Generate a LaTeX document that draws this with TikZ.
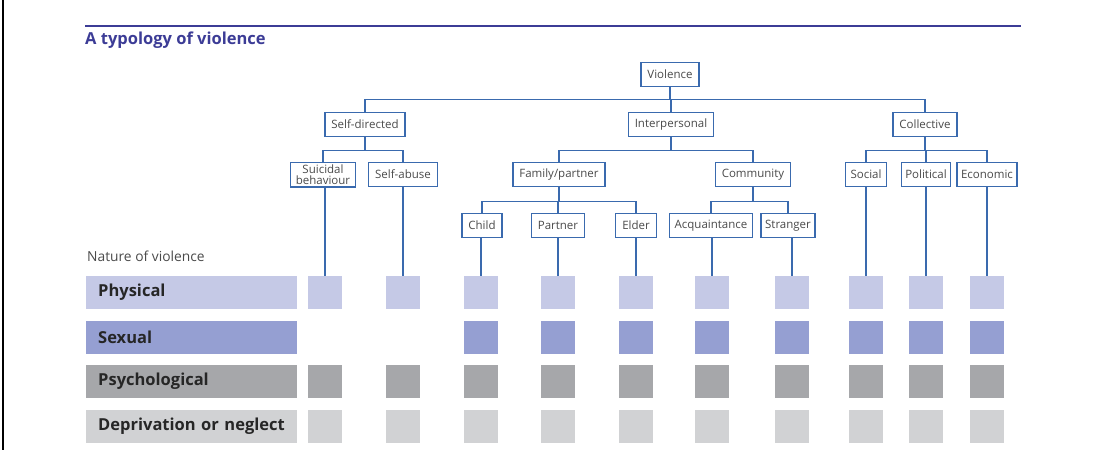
\documentclass[tikz,border=0pt]{standalone}
\usepackage{fontspec}
\setmainfont{Open Sans}
\definecolor{treeblue}{HTML}{3A6AAE}
\definecolor{titleblue}{HTML}{3C3C96}
\definecolor{boxtext}{HTML}{4A4A4A}
\definecolor{physcol}{HTML}{C5C9E6}
\definecolor{sexcol}{HTML}{959FD2}
\definecolor{psycol}{HTML}{A6A7AA}
\definecolor{depcol}{HTML}{D1D2D4}
\tikzset{
	typebox/.style={draw=treeblue,line width=1.3pt,fill=white,text=boxtext,font=\fontsize{11.5}{12.5}\selectfont,inner xsep=6.5pt,inner ysep=2pt,minimum height=24pt,align=center,anchor=north},
	link/.style={treeblue,line width=1.3pt},
	cell/.style={minimum width=34pt,minimum height=33pt,inner sep=0pt},
	bar/.style={minimum height=33pt,inner xsep=12pt,inner ysep=0pt,text width=187pt,anchor=west,font=\fontsize{16.5}{17}\selectfont\bfseries,text=black!85}
}
\begin{document}
\begin{tikzpicture}[x=1pt,y=-1pt]
		\useasboundingbox (0,0) rectangle (1098,450);
		\draw[line width=2pt] (3,0) -- (3,450);
		\draw[titleblue,line width=1.6pt] (85,26) -- (1021,26);
		\node[anchor=west,inner sep=0pt,text=titleblue,font=\fontsize{16.5}{17}\selectfont\bfseries] (title) at (85,40) {A typology of violence};
		% tree
		\node[typebox] (violence) at (670,62) {Violence};
		\node[typebox] (selfdir) at (365,112) {Self-directed};
		\node[typebox] (interp) at (671,112) {Interpersonal};
		\node[typebox] (collective) at (925,112) {Collective};
		\node[typebox,inner xsep=5pt] (suicidal) at (323,162) {Suicidal\\[-1pt]behaviour};
		\node[typebox] (selfabuse) at (403,162) {Self-abuse};
		\node[typebox] (family) at (559,162) {Family/partner};
		\node[typebox] (community) at (753,162) {Community};
		\node[typebox,inner xsep=5pt] (social) at (866,162) {Social};
		\node[typebox,inner xsep=4pt] (political) at (926,162) {Political};
		\node[typebox,inner xsep=4pt] (economic) at (987,162) {Economic};
		\node[typebox] (child) at (482,213) {Child};
		\node[typebox] (partner) at (558,213) {Partner};
		\node[typebox] (elder) at (636,213) {Elder};
		\node[typebox,inner xsep=5pt] (acq) at (711,213) {Acquaintance};
		\node[typebox,inner xsep=4pt] (stranger) at (788,213) {Stranger};
		\foreach \kid in {selfdir,interp,collective}
			\draw[link] (violence.south) -- ++(0,12) -| (\kid.north);
		\foreach \kid in {suicidal,selfabuse}
			\draw[link] (selfdir.south) -- ++(0,13) -| (\kid.north);
		\foreach \kid in {family,community}
			\draw[link] (interp.south) -- ++(0,13) -| (\kid.north);
		\foreach \kid in {social,political,economic}
			\draw[link] (collective.south) -- ++(0,13) -| (\kid.north);
		\foreach \kid in {child,partner,elder}
			\draw[link] (family.south) -- ++(0,14) -| (\kid.north);
		\foreach \kid in {acq,stranger}
			\draw[link] (community.south) -- ++(0,14) -| (\kid.north);
		% nature of violence
		\node[anchor=west,inner sep=0pt,text=boxtext,font=\fontsize{13.8}{14}\selectfont] (nature) at (87,256) {Nature of violence};
		\node[bar,fill=physcol] (physical) at (86,292.5) {Physical};
		\node[bar,fill=sexcol] (sexual) at (86,337.5) {Sexual};
		\node[bar,fill=psycol] (psych) at (86,381.5) {Psychological};
		\node[bar,fill=depcol] (depriv) at (86,426.5) {Deprivation or neglect};
		\foreach \x [count=\i] in {325,403,481,558,636,712,792,866,926,987} {
			\node[cell,fill=physcol] (p\i) at (\x,292.5) {};
			\ifnum\i>2 \node[cell,fill=sexcol] (s\i) at (\x,337.5) {}; \fi
			\node[cell,fill=psycol] (y\i) at (\x,381.5) {};
			\node[cell,fill=depcol] (d\i) at (\x,426.5) {};
		}
		\foreach \leaf [count=\i] in {suicidal,selfabuse,child,partner,elder,acq,stranger,social,political,economic}
			\draw[link] (\leaf.south -| p\i.north) -- (p\i.north);
\end{tikzpicture}
\end{document}
